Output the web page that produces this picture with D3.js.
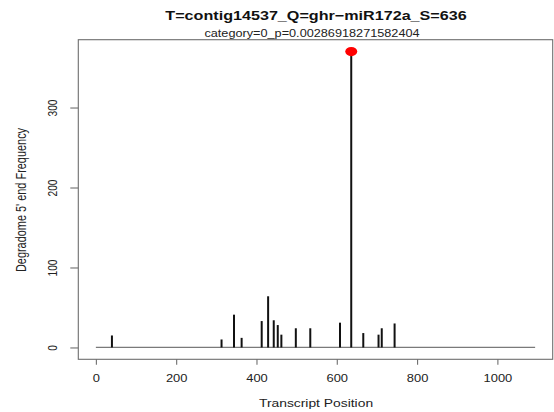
<!DOCTYPE html>
<html>
<head>
<meta charset="utf-8">
<script src="https://cdn.jsdelivr.net/npm/d3@7"></script>
<style>
  body { margin: 0; background: #fff; }
  svg { display: block; font-family: "Liberation Sans", Arial, Helvetica, sans-serif; }
</style>
</head>
<body>
<svg id="chart" width="554" height="412"></svg>
<script>
// transcript positions and degradome 5' end counts
const positions = [40, 313, 344, 363, 413, 429, 443, 453, 462, 498, 534, 608, 636, 666, 704, 712, 744];
const counts    = [15, 10, 41, 12, 33, 64, 34, 28, 16, 24, 24, 31, 370, 18, 16, 24, 30];
const transcriptLength = 1094;
const sitePosition = 636;
const xTicks = [0, 200, 400, 600, 800, 1000];
const yTicks = [0, 100, 200, 300];
const titleText = 'T=contig14537_Q=ghr\u2212miR172a_S=636';
const subText = 'category=0_p=0.00286918271582404';

const width = 554;
const height = 412;
const box = { left: 78.3, right: 552.7, top: 39.7, bottom: 359.3 };

// the original plot was resized unevenly, so text is stretched too
const SX = 1.154;
const SY = 0.91;
const stretch = (x, y, rot) => `translate(${x},${y}) scale(${SX},${SY})${rot ? ' rotate(-90)' : ''}`;

const svg = d3.select('#chart');

// R style 4% padding on both axes
const xPad = transcriptLength * 0.04;
const xscale = d3.scaleLinear()
  .domain([-xPad, transcriptLength + xPad])
  .range([box.left, box.right]);

const yMax = d3.max(counts);
const yPad = yMax * 0.04;
const yscale = d3.scaleLinear()
  .domain([-yPad, yMax + yPad])
  .range([box.bottom, box.top]);

// baseline along the transcript
svg.append('line')
  .attr('x1', xscale(0))
  .attr('x2', xscale(transcriptLength))
  .attr('y1', yscale(0))
  .attr('y2', yscale(0))
  .attr('stroke', '#7a7a7a')
  .attr('stroke-width', 1.2);

// spikes (type = "h")
svg.append('g')
  .selectAll('line')
  .data(positions)
  .enter()
  .append('line')
  .attr('x1', (d) => xscale(d))
  .attr('x2', (d) => xscale(d))
  .attr('y1', yscale(0))
  .attr('y2', (d, i) => yscale(counts[i]))
  .attr('stroke', '#111')
  .attr('stroke-width', 2);

// cleavage site marker
const siteCount = counts[positions.indexOf(sitePosition)];
svg.append('ellipse')
  .attr('cx', xscale(sitePosition))
  .attr('cy', yscale(siteCount))
  .attr('rx', 6)
  .attr('ry', 4.6)
  .attr('fill', '#ff0000');

// frame
svg.append('rect')
  .attr('x', box.left)
  .attr('y', box.top)
  .attr('width', box.right - box.left)
  .attr('height', box.bottom - box.top)
  .attr('fill', 'none')
  .attr('stroke', '#6e6e6e')
  .attr('stroke-width', 1.1);

const bottomAxis = d3.axisBottom(xscale)
  .tickValues(xTicks)
  .tickSize(5.5)
  .tickFormat(d3.format('d'));

const xAxisG = svg.append('g')
  .attr('transform', `translate(0, ${box.bottom})`)
  .call(bottomAxis);

xAxisG.select('.domain').remove();
xAxisG.selectAll('line').attr('stroke', '#6e6e6e').attr('stroke-width', 1.1);
xAxisG.selectAll('text')
  .attr('x', null).attr('y', null).attr('dy', null)
  .attr('transform', stretch(0, 22.6, false))
  .attr('text-anchor', 'middle')
  .attr('font-size', 11.2)
  .attr('fill', '#222');

const leftAxis = d3.axisLeft(yscale)
  .tickValues(yTicks)
  .tickSize(8)
  .tickFormat(d3.format('d'));

const yAxisG = svg.append('g')
  .attr('transform', `translate(${box.left}, 0)`)
  .call(leftAxis);

yAxisG.select('.domain').remove();
yAxisG.selectAll('line').attr('stroke', '#6e6e6e').attr('stroke-width', 1.1);
yAxisG.selectAll('text')
  .attr('x', null).attr('y', null).attr('dy', null)
  .attr('transform', stretch(-21.8, 0, true))
  .attr('text-anchor', 'middle')
  .attr('font-size', 11.2)
  .attr('fill', '#222');

// titles
svg.append('text')
  .text(titleText)
  .attr('transform', stretch(316, 19.8, false))
  .attr('text-anchor', 'middle')
  .attr('font-size', 14)
  .attr('font-weight', 'bold')
  .attr('fill', '#111');

svg.append('text')
  .text(subText)
  .attr('transform', stretch(312, 36.6, false))
  .attr('text-anchor', 'middle')
  .attr('font-size', 11)
  .attr('fill', '#222');

svg.append('text')
  .text('Transcript Position')
  .attr('transform', stretch(316, 406.8, false))
  .attr('text-anchor', 'middle')
  .attr('font-size', 12)
  .attr('fill', '#222');

svg.append('text')
  .text("Degradome 5' end Frequency")
  .attr('transform', stretch(25.5, 200, true))
  .attr('text-anchor', 'middle')
  .attr('font-size', 12)
  .attr('fill', '#222');
</script>
</body>
</html>
